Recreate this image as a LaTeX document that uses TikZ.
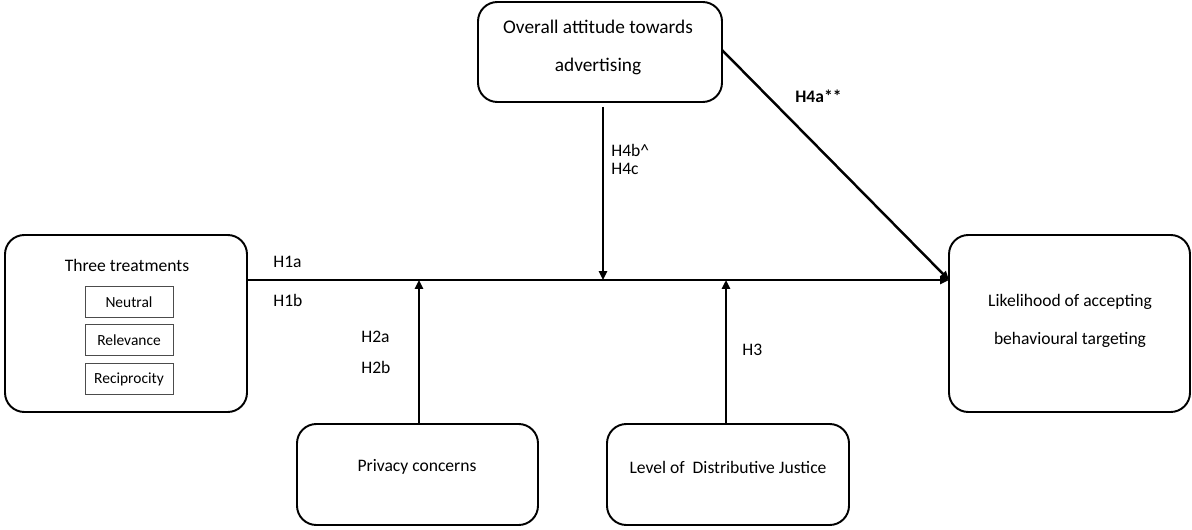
\documentclass[tikz,border=0pt]{standalone}
\usepackage{fontspec}
\setmainfont{Carlito}
\usetikzlibrary{arrows.meta}
\begin{document}
\begin{tikzpicture}[x=0.02cm,y=-0.02cm,
  bigbox/.style={draw, line width=1.1pt, rounded corners=11pt},
  smallbox/.style={draw=black!70, line width=0.5pt, minimum width=88*0.02cm, minimum height=31*0.02cm, inner sep=0pt, font=\fontsize{8.8}{10}\selectfont},
  lbl/.style={font=\fontsize{10}{12}\selectfont, inner sep=0pt},
  txt/.style={font=\fontsize{10}{12}\selectfont, inner sep=0pt},
  conn/.style={line width=1.4pt, -{Triangle[length=5pt,width=4.5pt]}}]
\useasboundingbox (0,0) rectangle (1192,530);
% boxes
\draw[bigbox] (5,235) rectangle (247,412);
\node[txt] (tt) at (127,265) {Three treatments};
\node[smallbox] (neu) at (129,302) {Neutral};
\node[smallbox] (rel) at (129,340) {Relevance};
\node[smallbox] (rec) at (129,379) {Reciprocity};
\coordinate (treatR) at (247,280);

\draw[bigbox] (478,2) rectangle (722,102);
\node[txt, font=\fontsize{11}{13}\selectfont] (att1) at (598,27) {Overall attitude towards};
\node[txt, font=\fontsize{11}{13}\selectfont] (att2) at (598,66) {advertising};
\coordinate (attB) at (603,107);
\coordinate (attR) at (722,50);

\draw[bigbox] (949,235) rectangle (1190,412);
\node[txt] (lik1) at (1070,302) {Likelihood of accepting};
\node[txt] (lik2) at (1070,340) {behavioural targeting};
\coordinate (likL) at (949,280);

\draw[bigbox] (297,424) rectangle (538,525);
\node[txt] (priv) at (417,467) {Privacy concerns};
\coordinate (privT) at (419,424);

\draw[bigbox] (607,424) rectangle (849,525);
\node[txt] (just) at (728,467) {Level of\ \ Distributive Justice};
\coordinate (justT) at (726,424);

% junction points on main line
\coordinate (jA) at (603,280);
\coordinate (jP) at (419,280);
\coordinate (jJ) at (726,280);

% connectors
\draw[conn] (treatR) -- (likL);
\draw[conn] (attR) -- (likL);
\draw[conn] (attB) -- (jA);
\draw[conn] (privT) -- (jP);
\draw[conn] (justT) -- (jJ);

% labels
\node[lbl, anchor=west] at (273,262) {H1a};
\node[lbl, anchor=west] at (273,300) {H1b};
\node[lbl, anchor=west] at (361,337) {H2a};
\node[lbl, anchor=west] at (361,367) {H2b};
\node[lbl, anchor=west] at (742,350) {H3};
\node[lbl, anchor=west] at (611,150) {H4b\^{}};
\node[lbl, anchor=west] at (611,169) {H4c};
\node[lbl, anchor=west, font=\fontsize{10}{12}\selectfont\bfseries] at (795,96) {H4a**};
\end{tikzpicture}
\end{document}
